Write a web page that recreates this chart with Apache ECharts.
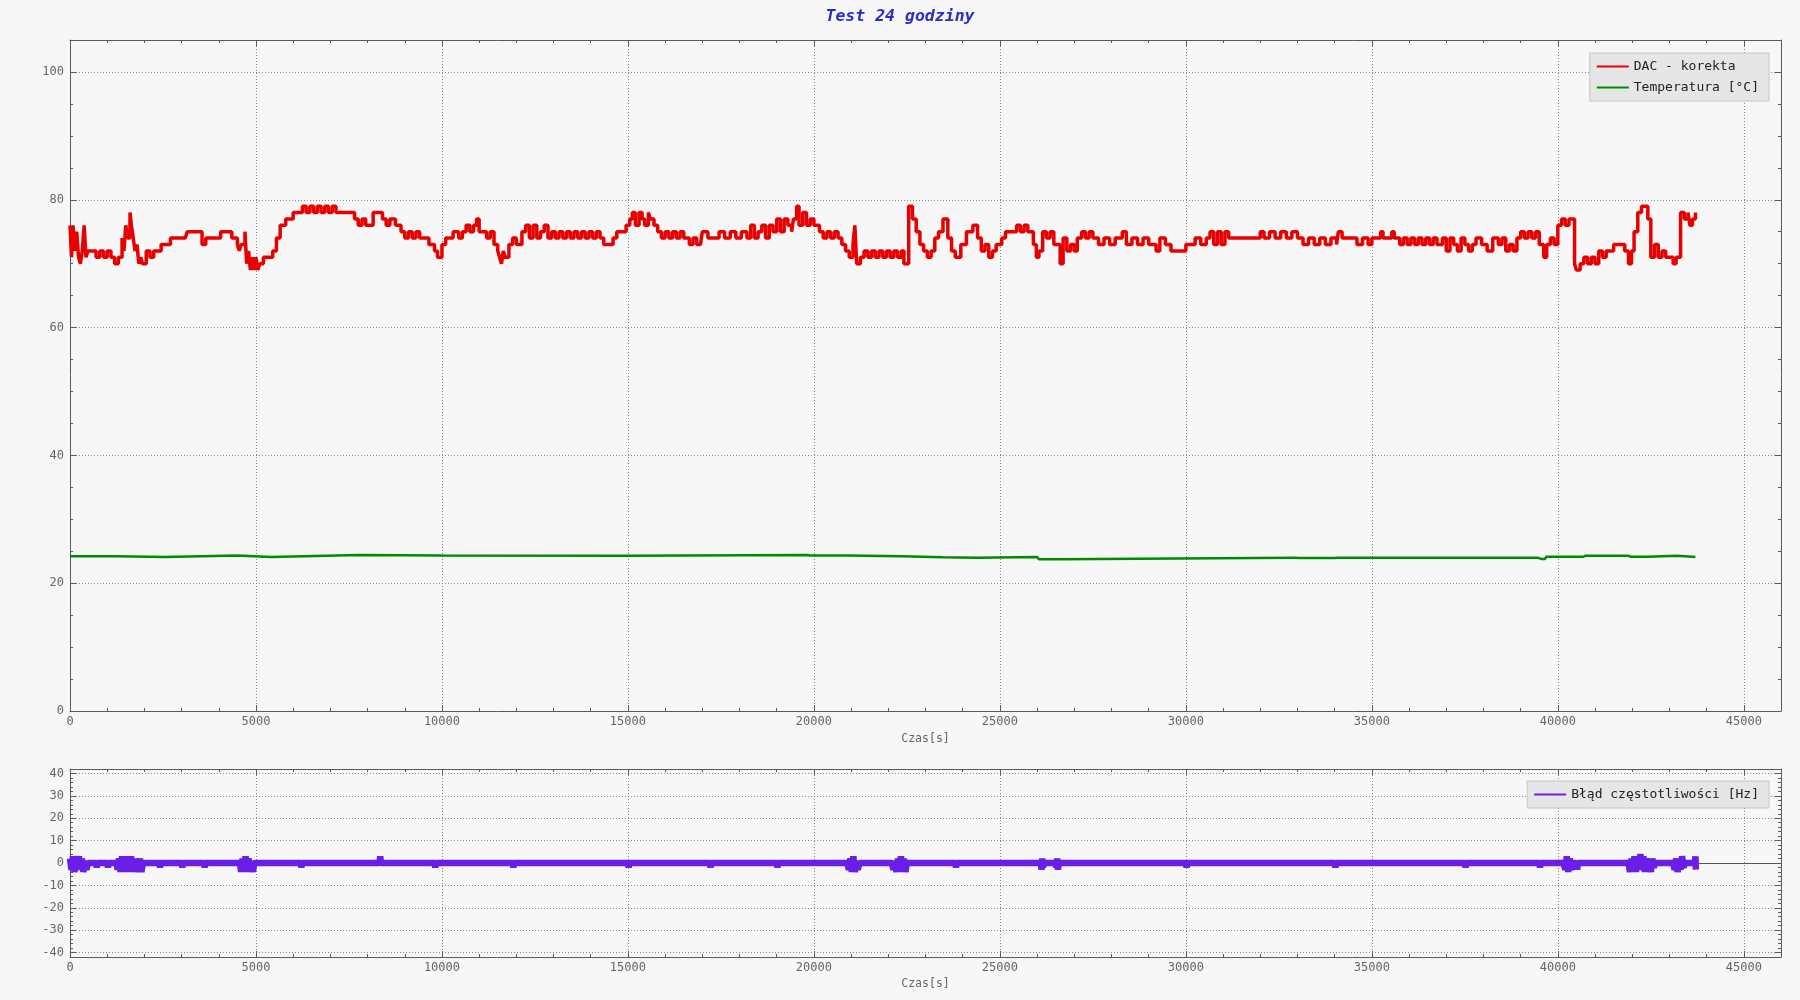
<!DOCTYPE html>
<html>
<head>
<meta charset="utf-8">
<script src="https://cdn.jsdelivr.net/npm/echarts@6/dist/echarts.min.js"></script>
<style>
html,body{margin:0;padding:0;background:#f7f7f7;}
#chart{width:1800px;height:1000px;}
</style>
</head>
<body>
<div id="chart"></div>
<script>
var titleText = 'Test 24 godziny';
var xAxisName = 'Czas[s]';
var seriesNames = ['DAC - korekta', 'Temperatura [°C]', 'Błąd częstotliwości [Hz]'];

// DAC - korekta: [czas s, wartość]
var dacData = [
[0,76],[40,71],[80,76],[130,72],[180,75],[230,71],[280,70],[330,72],[380,76],[430,71],[480,72],
[600,72],[700,71],[800,72],[900,71],[1000,72],[1100,71],
[1200,70],[1300,71],
[1400,74],[1450,72],[1500,76],[1550,74],[1613,78],
[1650,76],[1700,74],[1750,72],[1800,73],[1850,70],[1900,71],[1950,70],
[2050,72],[2150,71],[2250,72],[2350,72],
[2450,73],[2600,73],
[2700,74],[2900,74],[3100,74],
[3150,75],[3300,75],[3450,75],
[3550,73],[3650,74],
[3800,74],[3950,74],
[4050,75],[4250,75],
[4350,74],
[4500,73],[4550,72],[4600,73],[4704,75],
[4750,70],[4800,72],[4850,69],[4900,71],[4950,69],[5000,71],[5050,69],[5100,70],
[5200,71],[5350,71],
[5450,72],[5550,74],
[5650,76],[5800,77],
[5900,77],[6000,78],[6150,78],
[6250,79],[6350,78],[6450,79],[6550,78],[6650,79],[6750,78],[6850,79],[6950,78],[7050,79],[7150,78],
[7300,78],[7500,78],
[7650,77],[7750,76],[7850,77],[7950,76],
[8150,78],[8300,78],
[8400,77],[8500,76],[8600,77],
[8750,76],[8900,75],
[9000,74],[9100,75],[9200,74],[9300,75],[9400,74],[9500,74],
[9650,73],[9800,72],[9880,71],
[10000,73],[10100,74],[10200,74],
[10300,75],[10450,74],[10550,75],
[10650,76],[10750,75],[10850,76],[10930,77],[11000,75],
[11100,75],[11200,74],[11300,75],
[11400,73],[11500,72],[11550,71],[11600,70],[11650,72],[11700,71],
[11800,73],[11900,74],[12000,73],
[12150,75],[12250,76],[12350,74],[12450,76],[12550,74],[12650,75],[12750,76],[12850,74],[12950,75],[13050,74],[13150,75],
[13250,74],[13350,75],[13450,74],[13550,75],[13650,74],[13750,75],[13850,74],[13950,75],[14050,74],[14150,75],[14250,74],
[14350,73],[14500,73],
[14600,74],[14700,75],[14850,75],
[14950,76],[15050,77],[15120,78],[15200,76],[15300,78],[15380,77],[15450,76],[15550,78],[15600,77],
[15700,76],[15800,75],
[15900,74],[16000,75],[16100,74],[16200,75],[16300,74],[16400,75],[16500,74],
[16650,73],[16750,74],[16850,73],[16950,73],
[17000,75],[17150,74],[17300,74],[17450,75],[17600,74],[17750,75],[17900,74],[18050,75],[18200,74],
[18300,76],[18400,74],[18500,75],[18600,76],[18700,74],[18800,76],
[18900,75],[19000,77],[19100,75],[19200,77],[19300,76],[19400,75],
[19450,77],[19536,79],[19600,76],[19700,78],[19800,76],[19900,77],
[20000,76],[20150,75],
[20250,74],[20350,75],[20450,74],[20550,75],[20650,74],
[20750,73],[20850,72],[20950,71],
[21050,73],[21100,76],[21150,70],
[21250,71],[21350,72],[21450,71],[21550,72],[21650,71],[21750,72],[21850,71],[21950,72],[22050,71],[22150,72],[22250,71],[22350,72],
[22420,70],[22548,79],
[22650,77],[22750,75],[22850,73],[22950,72],
[23050,71],[23150,72],
[23250,74],[23350,75],[23470,77],
[23600,74],[23700,72],[23800,71],
[23950,73],[24100,75],[24274,76],
[24400,74],[24500,72],[24600,73],[24700,71],[24800,72],
[24900,73],[25050,74],
[25150,75],[25300,75],[25450,76],[25550,75],[25650,76],[25750,75],
[25900,73],[25980,71],[26050,72],
[26150,75],[26250,74],[26350,75],[26450,73],[26550,73],
[26620,70],[26700,74],
[26800,72],[26900,73],[27000,72],
[27080,74],
[27200,75],[27300,74],[27400,75],[27500,74],
[27650,73],[27800,74],[27950,73],[28100,74],[28290,75],[28400,73],[28550,74],[28700,73],[28850,74],[29000,73],
[29100,73],[29200,72],[29300,74],[29450,73],[29600,72],
[29700,72],[29850,72],
[30000,73],[30150,73],
[30250,74],[30400,73],[30550,74],[30650,75],[30750,73],[30850,75],[30950,73],[31050,75],[31150,74],
[31300,74],[31600,74],[31900,74],
[32000,75],[32100,74],[32250,75],[32400,74],[32550,75],[32700,74],[32850,75],[33000,74],
[33150,73],[33300,74],[33450,73],[33600,74],[33750,73],[33900,74],[34050,73],
[34100,75],[34200,74],[34500,74],
[34600,73],[34750,74],[34900,73],[35000,74],
[35237,75],[35300,74],[35537,75],[35600,74],
[35750,73],[35850,74],[35950,73],[36050,74],[36150,73],[36250,74],[36350,73],[36450,74],[36550,73],[36650,74],[36750,73],[36900,74],
[37000,72],[37100,74],[37200,73],[37300,72],[37400,74],[37500,73],[37600,72],[37700,73],[37800,74],[37950,73],[38100,72],[38250,74],[38400,73],[38500,74],
[38600,72],[38700,73],[38800,72],[38900,74],[39000,75],[39100,74],
[39200,75],[39300,74],[39400,75],[39500,73],
[39620,71],[39700,73],
[39800,74],[39900,73],
[40000,76],[40100,77],[40200,76],[40300,77],[40380,77],
[40450,70],[40500,69],
[40600,70],[40700,71],[40800,70],[40900,71],[41000,70],
[41100,72],[41200,71],[41300,72],[41400,72],
[41500,73],[41650,73],
[41800,72],[41900,70],[41980,72],
[42050,75],[42150,78],
[42250,79],[42350,79],
[42420,77],
[42500,71],[42600,73],[42700,71],[42800,72],
[42900,71],[43000,71],[43100,70],[43180,71],
[43300,78],
[43400,77],[43500,78],[43550,76],[43620,77],[43700,78]
];

// Temperatura [°C]
var tempData = [
[0,24.2],[1220,24.2],[1250,24.1],[2550,24.1],[2600,24.35],[4500,24.35],[4550,24.1],[5400,24.1],
[5450,24.4],[7770,24.4],[7800,24.35],[10000,24.35],[10050,24.3],[14920,24.3],[14950,24.4],
[19830,24.4],[19900,24.35],[20870,24.35],[20900,24.2],[22360,24.2],[22400,24.0],[23470,24.05],
[23500,24.0],[24400,24.0],[24450,24.1],[26000,24.1],[26050,23.75],[26600,23.75],[26650,24.0],
[32940,24.0],[33000,23.95],[34000,23.95],[34100,24.0],[39450,24.0],[39550,23.8],[39650,23.8],
[39700,24.15],[40690,24.15],[40750,24.3],[41890,24.3],[41950,24.15],[42410,24.15],[42450,24.3],
[43210,24.3],[43250,24.1],[43700,24.1]
];

// Błąd częstotliwości [Hz]
var errData = [
[0,2],[40,-3],[80,3],[120,-4],[160,1],[200,-2],[240,3],[280,-3],[320,2],[360,-4],[400,1],[440,-3],[480,0],
[700,0],[720,-2],[740,0],[1000,0],[1020,-2],[1040,0],
[1250,0],[1280,-3],[1320,2],[1360,-4],[1400,3],[1440,-3],[1480,3],[1520,-4],[1560,2],[1600,-3],[1640,3],[1680,-4],[1720,2],[1760,-4],[1800,1],[1840,-3],[1880,2],[1920,-4],[1960,0],
[2400,0],[2420,-2],[2440,0],[3000,0],[3020,-2],[3040,0],[3600,0],[3620,-2],[3640,0],
[4570,0],[4600,-4],[4640,2],[4680,-4],[4720,3],[4760,-4],[4800,2],[4840,-3],[4880,1],[4920,-4],[4950,0],
[6200,0],[6220,-2],[6240,0],[8320,0],[8340,3],[8360,0],[9800,0],[9820,-2],[9840,0],
[11900,0],[11920,-2],[11940,0],[15000,0],[15020,-2],[15040,0],[17200,0],[17220,-2],[17240,0],
[19000,0],[19020,-2],[19040,0],
[20900,0],[20940,-3],[20980,2],[21020,-4],[21060,3],[21100,-4],[21140,1],[21180,-3],[21220,0],
[22100,0],[22140,-3],[22180,1],[22220,-4],[22260,2],[22300,-4],[22340,3],[22380,-3],[22420,2],[22460,-4],[22500,0],
[23800,0],[23820,-2],[23840,0],
[26100,0],[26120,-3],[26140,2],[26160,-2],[26180,0],
[26500,0],[26520,-2],[26540,2],[26560,-3],[26580,0],
[30000,0],[30020,-2],[30040,0],[34000,0],[34020,-2],[34040,0],[37500,0],[37520,-2],[37540,0],
[39500,0],[39520,-2],[39540,0],
[40150,0],[40200,-3],[40240,3],[40280,-4],[40320,2],[40360,-3],[40400,0],[40500,0],[40520,-3],[40540,0],
[41900,0],[41940,-4],[41980,2],[42020,-3],[42060,3],[42100,-4],[42140,2],[42180,-3],[42220,4],[42260,-3],[42300,3],[42340,-4],[42380,2],[42420,-3],[42460,1],[42500,-4],[42540,2],[42580,-2],[42620,0],
[43100,0],[43140,-3],[43180,2],[43220,-4],[43260,1],[43300,-3],[43340,3],[43380,-2],[43420,0],
[43690,0],[43700,3],[43710,-3]
];

var FONT = "'DejaVu Sans Mono', 'Liberation Mono', monospace";
var AX = '#5a5a5a';
var GRIDC = '#8a8a8a';

function plain(v) { return String(v); }

function xAx(gridIndex, pos, labels) {
  return {
    type: 'value', gridIndex: gridIndex, position: pos,
    min: 0, max: 46000, interval: 5000,
    name: labels ? xAxisName : '', nameLocation: 'middle', nameGap: 21,
    nameTextStyle: {fontFamily: FONT, fontSize: 11.5, color: '#666'},
    axisLine: {show: true, onZero: false, lineStyle: {color: AX, width: 1}},
    axisTick: {show: true, inside: true, length: 6, lineStyle: {color: AX}},
    minorTick: {show: true, splitNumber: 5, length: 3, lineStyle: {color: AX}},
    axisLabel: {show: labels, margin: 5, showMaxLabel: false, formatter: plain, fontFamily: FONT, fontSize: 12, color: '#666'},
    splitLine: {show: labels, lineStyle: {color: GRIDC, type: [1, 2], width: 1}},
    minorSplitLine: {show: false}
  };
}
function yAx(gridIndex, pos, labels, opts) {
  var a = {
    type: 'value', gridIndex: gridIndex, position: pos,
    axisLine: {show: true, onZero: false, lineStyle: {color: AX, width: 1}},
    axisTick: {show: true, inside: true, length: 6, lineStyle: {color: AX}},
    minorTick: {show: true, splitNumber: opts.minor, length: 3, lineStyle: {color: AX}},
    axisLabel: {show: labels, margin: 6, showMaxLabel: false, showMinLabel: opts.showMin, formatter: plain, fontFamily: FONT, fontSize: 12, color: '#666'},
    splitLine: {show: labels, lineStyle: {color: GRIDC, type: [1, 2], width: 1}}
  };
  for (var k in opts.range) a[k] = opts.range[k];
  return a;
}

var topRange = {min: 0, max: 105, interval: 20};
var botRange = {min: -42, max: 42, splitNumber: 8};

var chart = echarts.init(document.getElementById('chart'));
chart.setOption({
  backgroundColor: '#f7f7f7',
  animation: false,
  title: {
    text: titleText, left: 'center', top: 3,
    textStyle: {fontFamily: FONT, fontSize: 16.5, fontWeight: 'bold', fontStyle: 'italic', color: '#2b2bc9'}
  },
  legend: [{
    data: [seriesNames[0], seriesNames[1]],
    orient: 'vertical', right: 31, top: 53,
    backgroundColor: '#e6e6e6', borderColor: '#c6c6c6', borderWidth: 1,
    padding: [7, 10, 7, 7], itemGap: 8, itemWidth: 32, itemHeight: 2, icon: 'rect',
    textStyle: {fontFamily: FONT, fontSize: 13, color: '#222'}
  }, {
    data: [seriesNames[2]],
    orient: 'vertical', right: 31, top: 781,
    backgroundColor: '#e6e6e6', borderColor: '#c6c6c6', borderWidth: 1,
    padding: [7, 10, 7, 7], itemWidth: 32, itemHeight: 2, icon: 'rect',
    textStyle: {fontFamily: FONT, fontSize: 13, color: '#222'}
  }],
  grid: [
    {left: 70, right: 19, top: 40, bottom: 289, containLabel: false},
    {left: 70, right: 19, top: 769, bottom: 43, containLabel: false}
  ],
  xAxis: [xAx(0, 'bottom', true), xAx(0, 'top', false), xAx(1, 'bottom', true), xAx(1, 'top', false)],
  yAxis: [
    yAx(0, 'left', true, {range: topRange, minor: 4, showMin: true}),
    yAx(0, 'right', false, {range: topRange, minor: 4, showMin: true}),
    yAx(1, 'left', true, {range: botRange, minor: 5, showMin: false}),
    yAx(1, 'right', false, {range: botRange, minor: 5, showMin: false})
  ],
  series: [{
    name: seriesNames[0], type: 'line', xAxisIndex: 0, yAxisIndex: 0,
    data: dacData, symbol: 'none', showSymbol: false, step: 'end',
    lineStyle: {color: '#e80000', width: 3.5}, itemStyle: {color: '#e80000'}, z: 3
  }, {
    name: seriesNames[1], type: 'line', xAxisIndex: 0, yAxisIndex: 0,
    data: tempData, symbol: 'none', showSymbol: false,
    lineStyle: {color: '#008a00', width: 2.5}, itemStyle: {color: '#008a00'}, z: 3
  }, {
    name: seriesNames[2], type: 'line', xAxisIndex: 2, yAxisIndex: 2,
    data: errData, symbol: 'none', showSymbol: false,
    lineStyle: {color: '#6a1ee8', width: 6.5}, itemStyle: {color: '#6a1ee8'}, z: 3,
    markLine: {
      silent: true, symbol: 'none', z: 1, label: {show: false},
      lineStyle: {color: '#555', type: 'solid', width: 1},
      data: [{yAxis: 0}]
    }
  }]
});
</script>
</body>
</html>
